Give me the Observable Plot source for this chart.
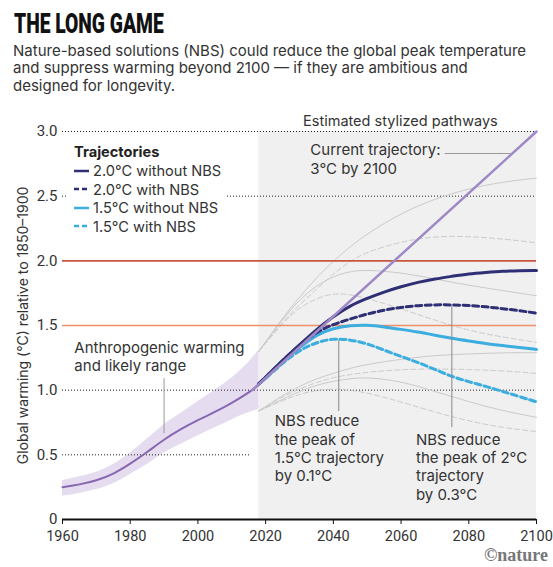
<!DOCTYPE html>
<html><head><meta charset="utf-8">
<script src="https://cdn.jsdelivr.net/npm/d3@7"></script>
<script src="https://cdn.jsdelivr.net/npm/@observablehq/plot@0.6"></script>
<style>
body{margin:0;background:#fff;font-family:Inter,Roboto,"Helvetica Neue",Arial,sans-serif;}
#wrap{position:relative;width:553px;height:567px;overflow:hidden;}
#title{position:absolute;left:14px;top:8px;font-family:Roboto,sans-serif;font-size:27.5px;line-height:1.172;font-weight:900;transform:scaleX(0.70);transform-origin:left top;color:#111;white-space:nowrap;}
#sub{position:absolute;left:13px;top:41.5px;font-size:15px;line-height:17.5px;color:#333;white-space:nowrap;}
#chart{position:absolute;left:0;top:100px;}
#legend{position:absolute;left:68px;top:141px;width:158px;height:92px;background:#fff;font-size:14.6px;color:#333;}
#legend .lt{position:absolute;left:6px;top:2px;font-weight:bold;color:#222;}
#legend .li{position:absolute;left:6px;white-space:nowrap;}
#legend svg{vertical-align:middle;margin-right:4px;margin-top:-3px;}
#credit{position:absolute;right:5px;top:545px;font-family:"Liberation Serif",serif;font-weight:bold;font-size:18px;color:#777;}
</style></head>
<body>
<div id="wrap">
<div id="title">THE LONG GAME</div>
<div id="sub">Nature-based solutions (NBS) could reduce the global peak temperature<br>and suppress warming beyond 2100 — if they are ambitious and<br>designed for longevity.</div>
<div id="chart"></div>
<div id="legend"></div>
<div id="credit">©nature</div>
</div>
<script>
// ---- data ----
const xTicks = [1960, 1980, 2000, 2020, 2040, 2060, 2080, 2100];
const yTicks = [0, 0.5, 1, 1.5, 2, 2.5, 3];
const yTickLabels = ["0", "0.5", "1.0", "1.5", "2.0", "2.5", "3.0"];

const histYears = [1960,1965,1970,1975,1980,1985,1990,1995,2000,2005,2010,2015,2018];
const histMean  = [0.25,0.27,0.30,0.35,0.43,0.52,0.62,0.70,0.77,0.83,0.90,0.98,1.04];
const histLow   = [0.18,0.20,0.23,0.27,0.35,0.42,0.52,0.58,0.65,0.71,0.77,0.83,0.85];
const histHigh  = [0.30,0.33,0.36,0.42,0.51,0.62,0.74,0.82,0.91,1.00,1.09,1.21,1.31];

const trajYears = [2016, 2100];
const trajVals  = [1.0, 3.0];

const projYears = [2018,2020,2025,2030,2035,2040,2045,2050,2055,2060,2065,2070,2075,2080,2085,2090,2095,2100];
const twoNoNbs  = [1.05,1.10,1.23,1.35,1.47,1.57,1.655,1.71,1.76,1.80,1.835,1.86,1.88,1.90,1.91,1.92,1.925,1.925];
const twoNbs    = [1.05,1.10,1.23,1.35,1.45,1.51,1.55,1.59,1.62,1.64,1.655,1.66,1.66,1.655,1.645,1.63,1.615,1.595];
const oneNoNbs  = [1.05,1.09,1.22,1.33,1.43,1.48,1.50,1.505,1.49,1.47,1.45,1.425,1.40,1.38,1.36,1.345,1.33,1.315];
const oneNbs    = [1.05,1.09,1.21,1.31,1.37,1.40,1.39,1.36,1.31,1.26,1.215,1.16,1.105,1.065,1.03,0.99,0.95,0.91];

const rangeYears = [2018,2025,2030,2035,2040,2045,2050,2060,2070,2080,2090,2100];
const rangeTwoNoHi = [1.30,1.56,1.72,1.87,2.00,2.11,2.21,2.37,2.48,2.56,2.61,2.64];
const rangeTwoHi   = [1.30,1.53,1.66,1.78,1.90,2.00,2.07,2.15,2.19,2.19,2.17,2.14];
const rangeOneNoHi = [1.30,1.55,1.70,1.81,1.88,1.92,1.93,1.91,1.86,1.81,1.77,1.73];
const rangeOneHi   = [1.30,1.52,1.64,1.71,1.75,1.74,1.71,1.63,1.54,1.46,1.41,1.37];
const rangeTwoNoLo = [0.84,0.96,1.03,1.09,1.13,1.17,1.20,1.24,1.27,1.28,1.29,1.29];
const rangeTwoLo   = [0.84,0.95,1.01,1.06,1.10,1.12,1.14,1.16,1.165,1.16,1.15,1.13];
const rangeOneNoLo = [0.84,0.93,0.99,1.04,1.07,1.09,1.10,1.07,0.99,0.91,0.84,0.79];
const rangeOneLo   = [0.84,0.92,0.97,1.00,1.01,1.00,0.98,0.91,0.83,0.76,0.71,0.68];

const legendLabels = ["2.0°C without NBS", "2.0°C with NBS", "1.5°C without NBS", "1.5°C with NBS"];

// ---- build ----
const toPts = (xs, ys) => xs.map((x, i) => ({x, y: ys[i]}));
const hist = histYears.map((x, i) => ({x, y: histMean[i], lo: histLow[i], hi: histHigh[i]}));

const C = {navy: "#2e2f74", cyan: "#3badde", hist: "#8767b0", traj: "#9e88c6", band: "#e6dcef",
  red: "#c9563c", orange: "#ee9068", faint: "#cacaca", bg: "#f0f0f0", grid: "#222"};

const solidRanges = [rangeTwoNoHi, rangeOneNoHi, rangeTwoNoLo, rangeOneNoLo];
const dashRanges = [rangeTwoHi, rangeOneHi, rangeTwoLo, rangeOneLo];

const txt = {fill: "#333", fontSize: 15, textAnchor: "start", lineAnchor: "middle", lineHeight: 1.225};

const chart = Plot.plot({
  width: 553, height: 467,
  marginTop: 31, marginBottom: 48, marginLeft: 62, marginRight: 17,
  style: {fontFamily: "Inter, Roboto, sans-serif", fontSize: "14px", color: "#333", background: "transparent"},
  x: {domain: [1960, 2100]},
  y: {domain: [0, 3]},
  marks: [
    Plot.rectY([{x1: 2018, x2: 2100, y1: 0, y2: 3}], {x1: "x1", x2: "x2", y1: "y1", y2: "y2", fill: C.bg}),
    Plot.areaY(hist, {x: "x", y1: "lo", y2: "hi", fill: C.band, curve: "basis"}),
    Plot.ruleY([3, 2.5, 1], {x1: 1960, x2: 2100, stroke: C.grid, strokeDasharray: "1,2", strokeWidth: 1}),
    Plot.ruleY([0.5], {x1: 1960, x2: 2015.5, stroke: C.grid, strokeDasharray: "1,2", strokeWidth: 1}),
    ...solidRanges.map(r => Plot.line(toPts(rangeYears, r), {x: "x", y: "y", stroke: C.faint, strokeWidth: 1, curve: "basis"})),
    ...dashRanges.map(r => Plot.line(toPts(rangeYears, r), {x: "x", y: "y", stroke: C.faint, strokeWidth: 1, strokeDasharray: "5,3", curve: "basis"})),
    Plot.ruleY([2], {x1: 1960, x2: 2100, stroke: C.red, strokeWidth: 1.6}),
    Plot.ruleY([1.5], {x1: 1960, x2: 2100, stroke: C.orange, strokeWidth: 1.6}),
    Plot.line(hist, {x: "x", y: "y", stroke: C.hist, strokeWidth: 2, curve: "basis"}),
    Plot.line(toPts(projYears, oneNbs), {x: "x", y: "y", stroke: C.cyan, strokeWidth: 3, strokeDasharray: "6,3.5", curve: "basis"}),
    Plot.line(toPts(projYears, oneNoNbs), {x: "x", y: "y", stroke: C.cyan, strokeWidth: 3, curve: "basis"}),
    Plot.line(toPts(projYears, twoNbs), {x: "x", y: "y", stroke: C.navy, strokeWidth: 3, strokeDasharray: "6,3.5", curve: "basis"}),
    Plot.line(toPts(projYears, twoNoNbs), {x: "x", y: "y", stroke: C.navy, strokeWidth: 3, curve: "basis"}),
    Plot.line(toPts(trajYears, trajVals), {x: "x", y: "y", stroke: C.traj, strokeWidth: 2.5}),
    // leader lines
    Plot.ruleX([1990], {y1: 0.665, y2: 1.09, stroke: "#999", strokeWidth: 1}),
    Plot.ruleX([2041.6], {y1: 0.835, y2: 1.385, stroke: "#888", strokeWidth: 1}),
    Plot.ruleX([2075], {y1: 0.71, y2: 1.655, stroke: "#888", strokeWidth: 1}),
    Plot.ruleY([2.83], {x1: 2073, x2: 2092.5, stroke: "#999", strokeWidth: 1}),
    // annotations
    Plot.text(["Estimated stylized pathways"], {x: 2059.8, y: 3, dy: -10, fill: "#333", fontSize: 14.5, textAnchor: "middle"}),
    Plot.text(["Current trajectory:\n3°C by 2100"], {x: 2033.2, y: 2.79, ...txt}),
    Plot.text(["Anthropogenic warming\nand likely range"], {x: 1963.5, y: 1.264, ...txt}),
    Plot.text(["NBS reduce\nthe peak of\n1.5°C trajectory\nby 0.1°C"], {x: 2022.7, y: 0.553, ...txt}),
    Plot.text(["NBS reduce\nthe peak of 2°C\ntrajectory\nby 0.3°C"], {x: 2064.4, y: 0.411, ...txt}),
    // axes
    Plot.ruleY([0], {x1: 1960, x2: 2100, stroke: "#111", strokeWidth: 2}),
    Plot.axisX({ticks: xTicks, tickFormat: d => String(d), tickSize: 5, tickPadding: 6, fontSize: 14.5, fontFamily: "Roboto, sans-serif", label: null, stroke: "#111"}),
    Plot.axisY({ticks: yTicks, tickFormat: d => yTickLabels[yTicks.indexOf(d)], tickSize: 0, tickPadding: 5, fontSize: 15, fontFamily: "Roboto, sans-serif", label: null}),
    Plot.axisY({ticks: [], label: "Global warming (°C) relative to 1850–1900", labelAnchor: "center", labelArrow: "none", labelOffset: 44, fontSize: 14})
  ]
});
document.getElementById("chart").appendChild(chart);

// legend
const legendStyles = [
  {stroke: C.navy, dash: null}, {stroke: C.navy, dash: "5,3"},
  {stroke: C.cyan, dash: null}, {stroke: C.cyan, dash: "5,3"}
];
const lg = document.getElementById("legend");
let html = `<div class="lt">Trajectories</div>`;
legendLabels.forEach((lab, i) => {
  const s = legendStyles[i];
  html += `<div class="li" style="top:${21 + i * 18.5}px"><svg width="15" height="8"><line x1="0" x2="15" y1="4" y2="4" stroke="${s.stroke}" stroke-width="2.5"${s.dash ? ` stroke-dasharray="${s.dash}"` : ""}/></svg>${lab}</div>`;
});
lg.innerHTML = html;
</script>
</body></html>
